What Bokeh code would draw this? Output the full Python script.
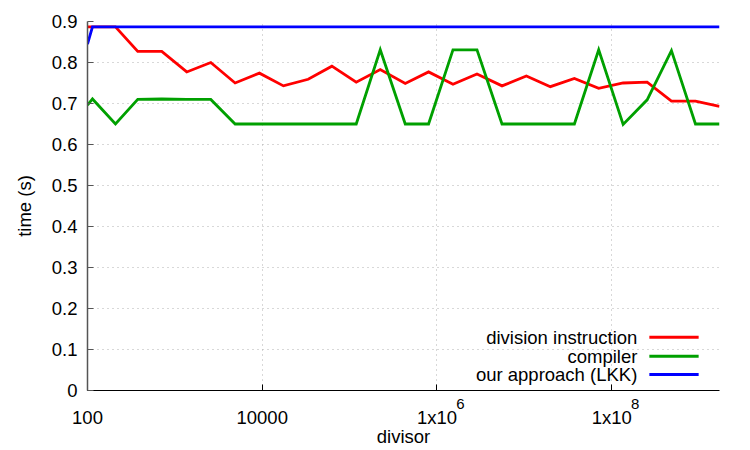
import math
from bokeh.plotting import figure
from bokeh.models import (FixedTicker, CustomJSTickFormatter, PrintfTickFormatter,
                          Range1d, LogAxis)
from bokeh.core.properties import value
from bokeh.embed import file_html
from bokeh.resources import INLINE

# divisor values tested
divisors = [100, 114, 209, 376, 708, 1368, 2577, 4894, 9290, 17490, 33570,
            62690, 119100, 224400, 433600, 801500, 1525000, 2872000, 5555000,
            10550000, 19860000, 37410000, 71000000, 135200000, 254600000,
            483000000, 910000000, 1714000000]

# run times in seconds
division_instruction = [0.887, 0.887, 0.887, 0.827, 0.827, 0.777, 0.800, 0.750,
                        0.774, 0.743, 0.759, 0.791, 0.752, 0.783, 0.749, 0.777,
                        0.747, 0.772, 0.743, 0.767, 0.741, 0.761, 0.737, 0.750,
                        0.752, 0.706, 0.706, 0.693]
compiler = [0.696, 0.711, 0.650, 0.710, 0.711, 0.710, 0.710, 0.650, 0.650, 0.650,
            0.650, 0.650, 0.650, 0.831, 0.650, 0.650, 0.831, 0.831, 0.650, 0.650,
            0.650, 0.650, 0.831, 0.649, 0.709, 0.829, 0.650, 0.650]
our_approach = [0.845] + [0.887] * 27

series_names = ["division instruction", "compiler", "our approach (LKK)"]
series_colors = ["#ff0000", "#00a000", "#0000ff"]

x_ticks = [100, 10000, 1000000, 100000000]
y_ticks = [0, 0.1, 0.2, 0.3, 0.4, 0.5, 0.6, 0.7, 0.8, 0.9]

FONT = "Liberation Sans"
FS = "18.5px"
EXP_FS = "15px"

xmin, xmax = divisors[0], divisors[-1]
ymin, ymax = 0.0, 0.9
FRAME_W = 632

p = figure(width=750, height=450, x_axis_type="log",
           x_range=Range1d(xmin, xmax), y_range=Range1d(ymin, ymax),
           output_backend="svg", toolbar_location=None,
           min_border_left=87, min_border_right=31,
           min_border_top=21, min_border_bottom=60)
p.outline_line_color = None
p.background_fill_color = "white"
p.border_fill_color = "white"

for ys, color in zip([division_instruction, compiler, our_approach], series_colors):
    p.line(divisors, ys, line_color=color, line_width=2.8, line_join="miter")

# main axes: large powers of ten get the mantissa part "1x10" here
p.xaxis.ticker = FixedTicker(ticks=x_ticks, minor_ticks=[])
p.xaxis.formatter = CustomJSTickFormatter(code="""
    return tick < 1e5 ? tick.toFixed(0) : "1x10";
""")
p.yaxis.ticker = FixedTicker(ticks=y_ticks, minor_ticks=[])
p.yaxis.formatter = PrintfTickFormatter(format="%g")

for ax in (p.xaxis[0], p.yaxis[0]):
    ax.major_label_text_font = FONT
    ax.major_label_text_font_size = FS
    ax.major_label_text_color = "black"
    ax.axis_label_text_font = FONT
    ax.axis_label_text_font_size = FS
    ax.axis_label_text_font_style = "normal"
    ax.axis_label_text_color = "black"
    ax.major_tick_out = 0
    ax.major_tick_in = 6
    ax.minor_tick_in = 0
    ax.minor_tick_out = 0
    ax.major_label_standoff = 10

p.xaxis.major_label_standoff = 16
p.yaxis.axis_label = "time (s)"
p.yaxis.axis_label_standoff = 14
p.xaxis.axis_line_color = "black"
p.xaxis.major_tick_line_color = "black"
p.yaxis.axis_line_color = "#555555"
p.yaxis.axis_line_width = 1.5
p.yaxis.major_tick_line_color = "#555555"

# raised exponents, drawn by a bare axis pulled up next to the "1x10" labels;
# this axis also carries the x title
exp_shift = 10 ** (23.5 * (math.log10(xmax) - math.log10(xmin)) / FRAME_W)
exp_axis = LogAxis(
    ticker=FixedTicker(ticks=[t * exp_shift for t in x_ticks if t > 1e5], minor_ticks=[]),
    formatter=CustomJSTickFormatter(code="""
        return String(Math.round(Math.log10(tick / %r)));
    """ % exp_shift),
    axis_line_color=None, major_tick_line_color=None, minor_tick_line_color=None,
    major_tick_in=0, major_tick_out=0, minor_tick_in=0, minor_tick_out=0,
    major_label_text_font=FONT, major_label_text_font_size=EXP_FS,
    major_label_text_color="black", major_label_standoff=-32,
    axis_label="divisor", axis_label_text_font=FONT, axis_label_text_font_size=FS,
    axis_label_text_font_style="normal", axis_label_text_color="black",
    axis_label_standoff=14)
p.add_layout(exp_axis, "below")

# dotted grid
for g in (p.xgrid[0], p.ygrid[0]):
    g.grid_line_color = "#b0b0b0"
    g.grid_line_dash = "1 4"
    g.grid_line_width = 1

# key in the lower right: text right-aligned, sample line to its right
lx0, lx1 = math.log10(xmin), math.log10(xmax)


def xfrac(f):
    return 10 ** (lx0 + f * (lx1 - lx0))


text_x = xfrac(0.870)
seg_x0, seg_x1 = xfrac(0.889), xfrac(0.967)
rows_y = [0.130, 0.0835, 0.039]
p.text(x=[text_x] * 3, y=rows_y, text=series_names, text_align="right",
       text_baseline="middle", text_font=value(FONT), text_font_size=FS,
       text_color="black")
p.segment(x0=[seg_x0] * 3, x1=[seg_x1] * 3, y0=rows_y, y1=rows_y,
          line_color=series_colors, line_width=3)

open("out.html", "w").write(file_html(p, INLINE))
